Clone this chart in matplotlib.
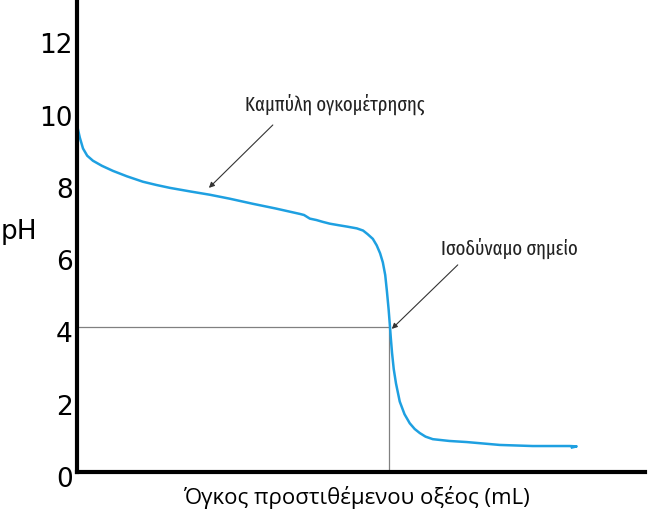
import matplotlib
matplotlib.use("Agg")
import matplotlib.pyplot as plt
import matplotlib.transforms as mtransforms

# titration curve (volume in mL, pH)
volume = [0.0, 0.25, 0.53, 0.9, 1.41, 2.2, 3.17, 4.4, 5.81, 7.0, 8.19, 10.0, 11.71,
          13.47, 15.49, 17.5, 19.63, 20.0, 20.51, 21.1, 21.65, 22.27, 23.0, 23.77,
          24.65, 25.2, 25.6, 26.06, 26.4, 26.7, 26.94, 27.15, 27.3, 27.45, 27.55,
          27.64, 27.75, 27.9, 28.1, 28.43, 28.85, 29.31, 29.75, 30.19, 30.7, 31.34,
          32.8, 34.33, 37.24, 40.14, 43.4, 44.01, 43.6]
ph = [9.6, 9.25, 8.95, 8.75, 8.61, 8.47, 8.33, 8.18, 8.03, 7.94, 7.86, 7.76, 7.67,
      7.56, 7.42, 7.29, 7.14, 7.11, 7.01, 6.97, 6.92, 6.87, 6.83, 6.79, 6.74, 6.68,
      6.58, 6.45, 6.27, 6.05, 5.80, 5.45, 5.00, 4.50, 4.10, 3.72, 3.30, 2.85, 2.45,
      1.95, 1.60, 1.35, 1.19, 1.08, 0.98, 0.91, 0.86, 0.83, 0.75, 0.72, 0.72, 0.71,
      0.68]

equiv_volume = 27.5
equiv_ph = 4.0

yticks = [0, 2, 4, 6, 8, 10, 12]
xlabel = "Όγκος προστιθέμενου οξέος (mL)"
ylabel = "pH"
curve_label = "Καμπύλη ογκομέτρησης"
equiv_label = "Ισοδύναμο σημείο"

fig = plt.figure(figsize=(6.48, 5.12), dpi=100)
ax = fig.add_axes([0.1188, 0.078, 0.876, 0.918])

ax.plot([0, equiv_volume], [equiv_ph, equiv_ph], color="#808080", lw=0.9)
ax.plot([equiv_volume, equiv_volume], [0, equiv_ph], color="#808080", lw=0.9)
ax.plot(volume, ph, color="#1ea0e1", lw=1.8, solid_joinstyle="round")

ax.set_xlim(0, 50)
ax.set_ylim(0, 13)
ax.set_xticks([])
ax.set_yticks(yticks)
ax.tick_params(axis="y", length=0, pad=3, labelsize=19)
# labels in the picture sit a few pixels below their value
shift = mtransforms.ScaledTranslation(0, -5 / 100, fig.dpi_scale_trans)
for tick in ax.yaxis.get_major_ticks():
    tick.label1.set_transform(tick.label1.get_transform() + shift)
for side in ("top", "right"):
    ax.spines[side].set_visible(False)
for side in ("left", "bottom"):
    ax.spines[side].set_linewidth(3)

ax.set_xlabel(xlabel, fontsize=16, family=["Open Sans", "DejaVu Sans"], va="center")
ax.xaxis.set_label_coords(0.493, -0.055)
ax.set_ylabel(ylabel, fontsize=19, rotation=0, va="center")
ax.yaxis.set_label_coords(-0.102, 0.51)

arrow = dict(arrowstyle="-|>", color="#333333", lw=0.8, mutation_scale=8,
             shrinkA=0, shrinkB=0)
ax.annotate("", xy=(11.62, 7.86), xytext=(17.25, 9.6), arrowprops=arrow)
ax.annotate("", xy=(27.73, 3.96), xytext=(33.54, 5.73), arrowprops=arrow)
narrow = ["Fira Sans Extra Condensed", "Roboto Condensed", "DejaVu Sans"]
ax.text(22.7, 10.0, curve_label, ha="center", va="baseline", fontsize=14.5,
        family=narrow, weight="normal", color="#222222")
ax.text(38.1, 6.02, equiv_label, ha="center", va="baseline", fontsize=14.5,
        family=narrow, weight="normal", color="#222222")

fig.savefig("out.png", dpi=100)
